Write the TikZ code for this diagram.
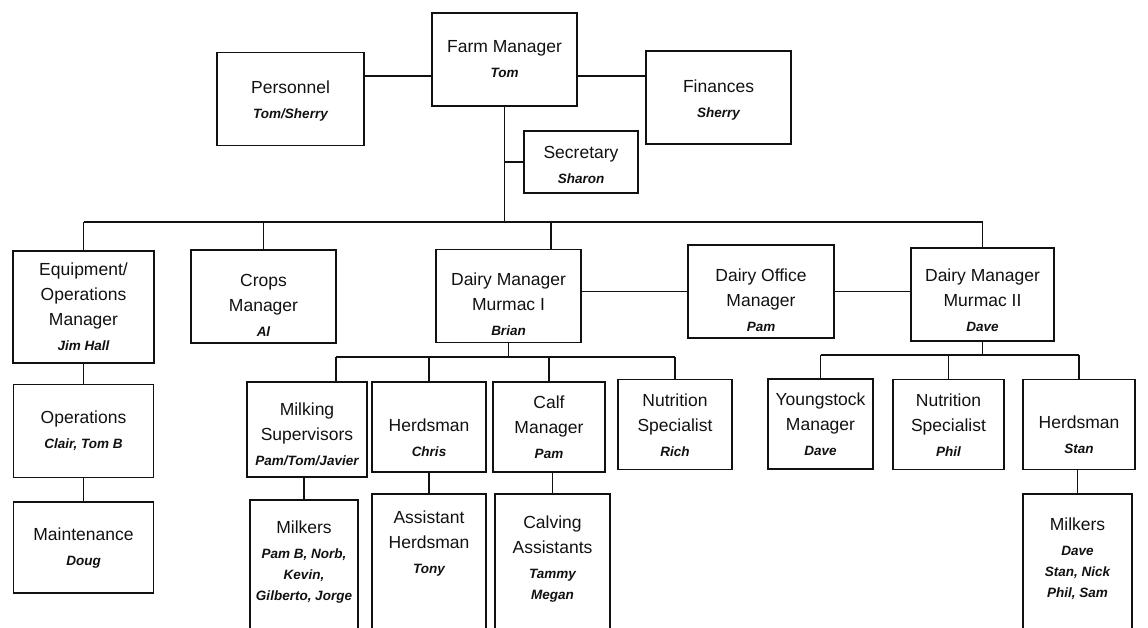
\documentclass[tikz,border=0pt]{standalone}
\usepackage{fontspec}
\setmainfont{Liberation Sans}
\usepackage{tikz}
\usetikzlibrary{positioning}
\definecolor{chartink}{HTML}{111111}
\newcommand{\titlefont}{\fontsize{17.5}{25}\selectfont}
\newcommand{\who}[1]{{\fontsize{13.5}{16}\selectfont\bfseries\itshape #1}}
\tikzset{
  unit/.style  ={draw=chartink,line width=1.6pt,align=flush center,inner sep=0pt,font=\titlefont,text=chartink,text width=145pt,minimum height=93pt},
  sub/.style   ={unit,text width=114pt,minimum height=90pt},
  open/.style  ={unit,anchor=north,minimum height=0pt,text height=34pt,text depth=160pt},
  low/.style   ={execute at begin node={\rule{0pt}{#1}}},
  link/.style  ={line width=1.6pt,draw=chartink},
}
\begin{document}
\begin{tikzpicture}[x=1pt,y=-1pt,node distance=20pt]
  \useasboundingbox (0,0) rectangle (1148,628);
  \clip (0,0) rectangle (1148,628);
  \coordinate (top) at (0,76);
  \coordinate (bus) at (0,222);
  \coordinate (sb1) at (0,357);
  \coordinate (sb2) at (0,355);

  \node[unit] (fm) at (504.5,59.5) {Farm Manager\\\who{Tom}};
  \node[unit, text width=147pt, low=16pt] (pers) at (290.5,99) {Personnel\\\who{Tom/Sherry}};
  \node[unit, low=18pt] (fin) at (718.5,97.5) {Finances\\\who{Sherry}};
  \node[unit, text width=114pt, minimum height=62pt, low=18pt] (sec) at (581,162) {Secretary\\\who{Sharon}};

  \node[unit, text width=141pt, minimum height=112pt] (eq) at (83.5,307) {Equipment/\\Operations\\Manager\\\who{Jim Hall}};
  \node[unit, low=30pt] (crops) at (263.5,296.5) {Crops\\Manager\\\who{Al}};
  \node[unit, low=30pt] (dm1) at (508.5,296) {Dairy Manager\\Murmac I\\\who{Brian}};
  \node[unit, text width=146pt, low=30pt] (dom) at (761,291.5) {Dairy Office\\Manager\\\who{Pam}};
  \node[unit, text width=143pt, low=24pt] (dm2) at (982.5,294.5) {Dairy Manager\\Murmac II\\\who{Dave}};

  \node[unit, text width=140pt, minimum height=93pt, below=20pt of eq] (ops) {Operations\\\who{Clair, Tom B}};
  \node[unit, text width=140pt, minimum height=91pt, below=23pt of ops] (maint) {Maintenance\\\who{Doug}};

  \node[sub, text width=120pt, minimum height=95pt, low=22pt] (ms) at (307,429.5) {Milking\\Supervisors\\\who{Pam/Tom/Javier}};
  \node[sub, low=34pt] (hd1) at (429,427) {Herdsman\\\who{Chris}};
  \node[sub, text width=112pt] (calf) at (549,427) {Calf\\Manager\\\who{Pam}};
  \node[sub, low=14pt] (nut1) at (675,424.5) {Nutrition\\Specialist\\\who{Rich}};
  \node[sub, text width=105pt, low=14pt] (yng) at (820.5,424) {Youngstock\\Manager\\\who{Dave}};
  \node[sub, text width=111pt, low=14pt] (nut2) at (948.5,424.5) {Nutrition\\Specialist\\\who{Phil}};
  \node[sub, text width=112pt, low=34pt] (hd2) at (1079,424.5) {Herdsman\\\who{Stan}};

  \node[open, text width=108pt] (mk1) at (304,499) {Milkers\\\who{Pam B, Norb,}\\[-4pt]\who{Kevin,}\\[-4pt]\who{Gilberto, Jorge}};
  \node[open, text width=114pt, text height=30pt] (ahd) at (429,493) {Assistant\\Herdsman\\\who{Tony}};
  \node[open, text width=115pt, text height=35pt] (calv) at (552.5,493) {Calving\\Assistants\\\who{Tammy}\\[-4pt]\who{Megan}};
  \node[open, text width=109pt, text height=37pt] (mk2) at (1077.5,493) {Milkers\\\who{Dave}\\[-4pt]\who{Stan, Nick}\\[-4pt]\who{Phil, Sam}};

  \draw[link] (pers.east |- top) -- (fm.west |- top);
  \draw[link] (fm.east |- top) -- (fin.west |- top);
  \draw[link] (fm.south) -- (fm.south |- bus);
  \draw[link] (sec.west) -- (sec.west -| fm.south);
  \draw[link] (eq.north |- bus) -- (dm2.north |- bus);
  \foreach \n in {eq,crops,dm2}
    \draw[link] (\n.north |- bus) -- (\n.north);
  \draw[link] ([xshift=42.5pt]dm1.north |- bus) -- ([xshift=42.5pt]dm1.north);
  \draw[link] (dm1.east |- dom.west) -- (dom.west);
  \draw[link] (dom.east) -- (dom.east -| dm2.west);

  \draw[link] (dm1.south) -- (dm1.south |- sb1);
  \draw[link] ([xshift=29pt]ms.north |- sb1) -- (nut1.north |- sb1);
  \draw[link] ([xshift=29pt]ms.north |- sb1) -- ([xshift=29pt]ms.north);
  \foreach \n in {hd1,calf,nut1}
    \draw[link] (\n.north |- sb1) -- (\n.north);
  \draw[link] (dm2.south) -- (dm2.south |- sb2);
  \draw[link] (yng.north |- sb2) -- (hd2.north |- sb2);
  \foreach \n in {yng,nut2,hd2}
    \draw[link] (\n.north |- sb2) -- (\n.north);

  \draw[link] (eq.south) -- (ops.north);
  \draw[link] (ops.south) -- (maint.north);
  \draw[link] (mk1.north |- ms.south) -- (mk1.north);
  \draw[link] (hd1.south) -- (ahd.north);
  \draw[link] (calv.north |- calf.south) -- (calv.north);
  \draw[link] (mk2.north |- hd2.south) -- (mk2.north);
\end{tikzpicture}
\end{document}
